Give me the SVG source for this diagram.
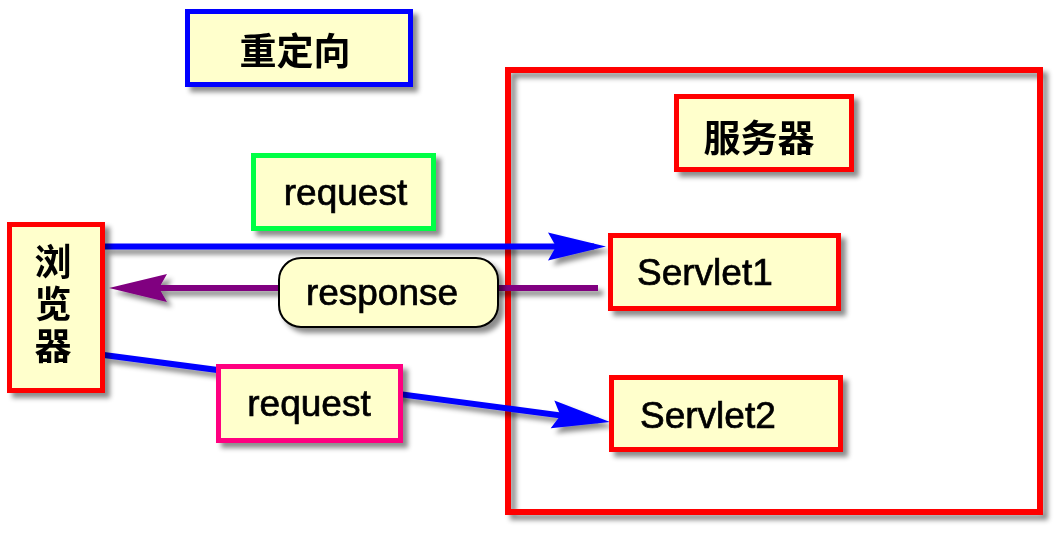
<svg xmlns="http://www.w3.org/2000/svg" width="1063" height="534" viewBox="0 0 1063 534">
  <style>
    .box { fill: #ffffcc; stroke-width: 5; }
    .red { stroke: #ff0000; }
    .en { font-family: "Liberation Sans", Arial, sans-serif; font-size: 37px; fill: #000; stroke: #000; stroke-width: 0.7; }
    .zh { font-family: "Noto Sans CJK SC", "Noto Sans CJK TC", sans-serif; font-size: 37px; font-weight: 700; fill: #000; }
    .conn { fill: none; stroke-width: 6; }
  </style>
  <defs>
    <filter id="sh" x="-20%" y="-20%" width="150%" height="160%">
      <feDropShadow dx="5" dy="5" stdDeviation="2.5" flood-color="#000" flood-opacity="0.45"/>
    </filter>
    <marker id="ab" markerUnits="userSpaceOnUse" markerWidth="60" markerHeight="30" refX="46" refY="14" orient="auto" overflow="visible">
      <path d="M0,0 L58,14 L0,28 L8,14 Z" fill="#0000ff"/>
    </marker>
    <marker id="ap" markerUnits="userSpaceOnUse" markerWidth="60" markerHeight="30" refX="46" refY="14" orient="auto" overflow="visible">
      <path d="M0,0 L58,14 L0,28 L8,14 Z" fill="#800080"/>
    </marker>
  </defs>

  <g id="server" filter="url(#sh)">
    <rect x="508" y="70" width="532" height="442" fill="none" stroke="#ff0000" stroke-width="6"/>
  </g>

  <g id="connectors" filter="url(#sh)">
    <line class="conn" x1="104" y1="246.5" x2="594" y2="246.5" stroke="#0000ff" marker-end="url(#ab)"/>
    <line class="conn" x1="598" y1="288" x2="121" y2="288" stroke="#800080" marker-end="url(#ap)"/>
    <line class="conn" x1="104" y1="355" x2="598.1" y2="420.4" stroke="#0000ff" marker-end="url(#ab)"/>
  </g>

  <g id="redirect" filter="url(#sh)">
    <rect class="box" x="187.5" y="11.5" width="223" height="73" stroke="#0000ff"/>
    <text class="zh" x="295" y="49" text-anchor="middle" dominant-baseline="central">重定向</text>
  </g>

  <g id="server-label" filter="url(#sh)">
    <rect class="box red" x="676.5" y="96.5" width="175" height="73"/>
    <text class="zh" x="759" y="136" text-anchor="middle" dominant-baseline="central">服务器</text>
  </g>

  <g id="request1" filter="url(#sh)">
    <rect class="box" x="253.5" y="155.5" width="180" height="73" stroke="#00ff44"/>
    <text class="en" x="345.5" y="205" text-anchor="middle">request</text>
  </g>

  <g id="browser" filter="url(#sh)">
    <rect class="box red" x="9.5" y="224.5" width="93" height="166"/>
    <text class="zh" x="53" y="243" writing-mode="vertical-rl" letter-spacing="5">浏览器</text>
  </g>

  <g id="response" filter="url(#sh)">
    <rect x="279" y="258" width="219" height="69" rx="22" ry="22" fill="#ffffcc" stroke="#000" stroke-width="2"/>
    <text class="en" x="382" y="305" text-anchor="middle">response</text>
  </g>

  <g id="servlet1" filter="url(#sh)">
    <rect class="box red" x="610.5" y="235.5" width="228" height="73"/>
    <text class="en" x="637" y="285">Servlet1</text>
  </g>

  <g id="servlet2" filter="url(#sh)">
    <rect class="box red" x="611.5" y="377.5" width="229" height="72"/>
    <text class="en" x="640" y="428">Servlet2</text>
  </g>

  <g id="request2" filter="url(#sh)">
    <rect class="box" x="218.5" y="366.5" width="182" height="74" stroke="#ff0080"/>
    <text class="en" x="309" y="416" text-anchor="middle">request</text>
  </g>
</svg>
